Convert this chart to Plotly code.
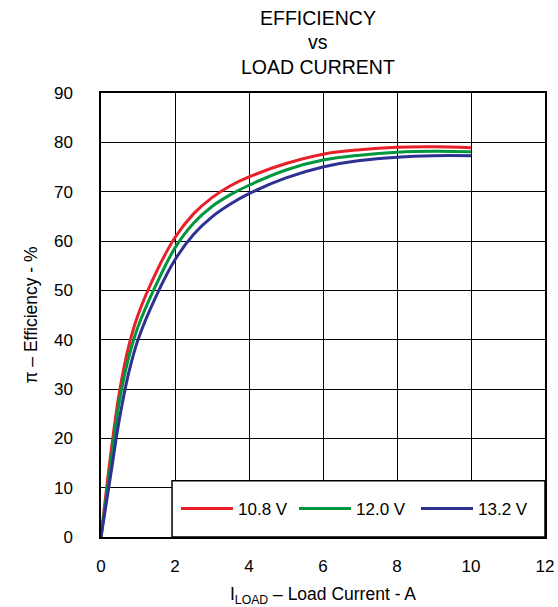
import plotly.graph_objects as go

# Load current (A) grid and efficiency (%), per supply voltage
load_current = [0, 0.25, 0.5, 0.75, 1, 1.5, 2, 2.5, 3, 3.5, 4, 5, 6, 7, 8, 9, 10]
eff_10v8 = [0, 16.0, 29.5, 38.7, 45.0, 53.8, 60.7, 65.5, 68.8, 71.2, 73.0, 75.7, 77.6, 78.5, 79.0, 79.1, 78.9]
eff_12v0 = [0, 14.1, 27.6, 36.4, 42.6, 51.3, 58.6, 63.6, 67.0, 69.4, 71.3, 74.4, 76.4, 77.4, 78.0, 78.2, 78.1]
eff_13v2 = [0, 12.0, 24.0, 33.3, 40.0, 49.0, 56.2, 61.3, 64.9, 67.5, 69.6, 72.8, 75.0, 76.3, 77.0, 77.3, 77.3]

series_names = ["10.8 V", "12.0 V", "13.2 V"]
series_values = [eff_10v8, eff_12v0, eff_13v2]
colors = ["#E8202A", "#00963E", "#2E3192"]
title_lines = ["EFFICIENCY", "vs", "LOAD CURRENT"]

x_ticks = [0, 2, 4, 6, 8, 10, 12]
y_ticks = [0, 10, 20, 30, 40, 50, 60, 70, 80, 90]

FONT = "Liberation Sans, Arial, sans-serif"
W, H = 558, 607
L, R, T, B = 101, 13, 93, 70
PW, PH = W - L - R, H - T - B

def px_x(p):
    return (p - L) / PW

def px_y(p):
    return (H - B - p) / PH

fig = go.Figure()
legend_ids = ["legend", "legend2", "legend3"]
legend_px = [176, 294, 416]
for name, vals, col, lid in zip(series_names, series_values, colors, legend_ids):
    fig.add_trace(go.Scatter(
        x=load_current, y=vals, name=name, mode="lines",
        line=dict(color=col, width=3, shape="spline", smoothing=1.0),
        legend=lid,
    ))

legend_common = dict(
    orientation="h", xanchor="left", yanchor="middle",
    xref="paper", yref="paper",
    bgcolor="rgba(0,0,0,0)", borderwidth=0,
    font=dict(family=FONT, size=17, color="black"),
    itemwidth=52,
)
layout_legends = {}
for lid, lx in zip(legend_ids, legend_px):
    layout_legends[lid] = dict(legend_common, x=px_x(lx), y=px_y(509))

annotations = []
for line, cy in zip(title_lines, [18, 42, 67]):
    annotations.append(dict(
        text=line, xref="paper", yref="paper",
        x=px_x(318), y=px_y(cy), xanchor="center", yanchor="middle",
        showarrow=False, font=dict(family=FONT, size=19.5, color="black"),
    ))

fig.update_layout(
    width=W, height=H,
    margin=dict(l=L, r=R, t=T, b=B),
    paper_bgcolor="white", plot_bgcolor="white",
    font=dict(family=FONT, color="black", size=17),
    showlegend=True,
    annotations=annotations,
    shapes=[dict(
        type="rect", xref="x", yref="y",
        x0=1.92, x1=12, y0=0, y1=11.4,
        line=dict(color="black", width=1.5),
        fillcolor="white", layer="above",
    )],
    **layout_legends,
)

fig.update_xaxes(
    range=[0, 12], tickvals=x_ticks, showgrid=True, gridcolor="black", gridwidth=1,
    showline=True, linecolor="black", linewidth=1.5, mirror=True,
    zeroline=False, ticks="", ticklabelstandoff=13, automargin=False,
    tickfont=dict(family=FONT, size=17, color="black"),
    title=dict(text="I<sub>LOAD</sub> – Load Current - A", standoff=14,
               font=dict(family=FONT, size=17.5, color="black")),
)
fig.update_yaxes(
    range=[0, 90], tickvals=y_ticks, showgrid=True, gridcolor="black", gridwidth=1,
    showline=True, linecolor="black", linewidth=1.5, mirror=True,
    zeroline=False, ticks="", ticklabelstandoff=23, automargin=False,
    tickfont=dict(family=FONT, size=17, color="black"),
    title=dict(text="π – Efficiency - %", standoff=12,
               font=dict(family=FONT, size=17.5, color="black")),
)

fig.write_html("out.html", config={"displayModeBar": False},
               post_script="document.body.style.margin='0';")
